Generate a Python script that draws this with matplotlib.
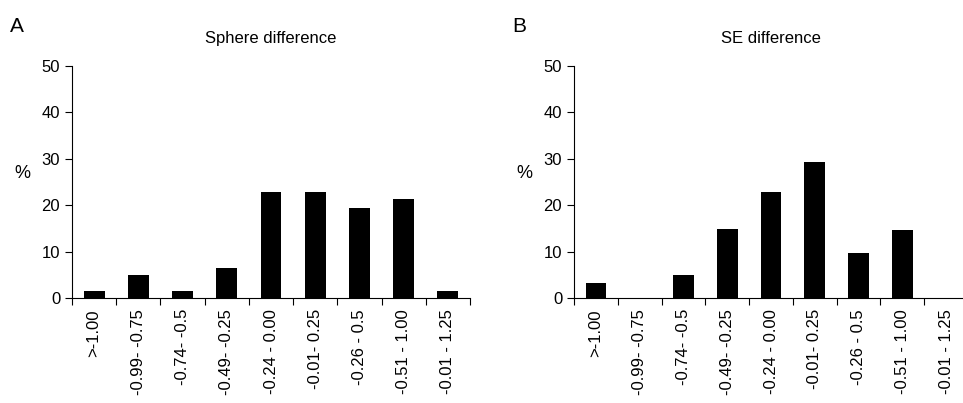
import matplotlib.pyplot as plt
import numpy as np

categories = [">-1.00", "-0.99- -0.75", "-0.74- -0.5", "-0.49- -0.25", "-0.24 - 0.00",
              "-0.01- 0.25", "-0.26 - 0.5", "-0.51 - 1.00", "-0.01 - 1.25"]
sphere = [1.6, 4.9, 1.6, 6.4, 22.9, 22.9, 19.5, 21.4, 1.6]
se = [3.2, 0, 4.9, 14.8, 22.8, 29.4, 9.8, 14.6, 0]

plt.rcParams['font.family'] = ['Liberation Sans', 'DejaVu Sans']
fig = plt.figure(figsize=(9.63, 4.03), dpi=100)

panels = [("A", "Sphere difference", sphere, 72, 470),
          ("B", "SE difference", se, 574, 968)]
for letter, title, vals, x0, x1 in panels:
    ax = fig.add_axes([x0 / 963, 1 - 298 / 403, (x1 - x0) / 963, (298 - 66) / 403])
    x = np.arange(len(vals))
    ax.bar(x, vals, width=0.47, color='black')
    ax.set_xlim(-0.5, len(vals) - 0.5)
    ax.set_ylim(0, 50)
    ax.set_yticks(range(0, 51, 10))
    ax.set_xticks(np.arange(len(vals) + 1) - 0.5)
    ax.set_xticklabels([])
    ax.set_xticks(x, minor=True)
    ax.set_xticklabels(categories, minor=True, rotation=90, fontsize=12)
    ax.tick_params(axis='x', which='minor', length=0, pad=8)
    ax.tick_params(axis='x', which='major', length=5)
    ax.tick_params(axis='y', labelsize=12, length=5)
    ax.spines['top'].set_visible(False)
    ax.spines['right'].set_visible(False)
    ax.set_ylabel("%", rotation=0, fontsize=13, labelpad=14)
    ax.text(0.5, 1.1, title, transform=ax.transAxes, ha='center', fontsize=12)
    fig.text((x0 - 62) / 963, 1 - 26 / 403, letter, fontsize=15, va='center')

fig.savefig("out.png", dpi=100)
